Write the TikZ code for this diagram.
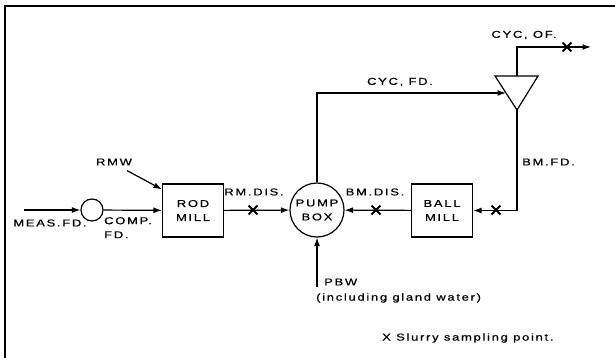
\documentclass[tikz,border=0pt]{standalone}
\usepackage{fontspec}
\setmainfont{Liberation Sans}[FakeStretch=1.3,LetterSpace=17,FakeBold=0.6]
\usetikzlibrary{arrows.meta,positioning,shapes.misc}

\begin{document}
\begin{tikzpicture}[x=1pt,y=-1pt]
\tikzset{
  unitbox/.style={rectangle,draw,line width=1.2pt,minimum width=61pt,minimum height=53pt,inner sep=1pt,align=center,font=\lbl},
  pumpnode/.style={circle,draw,line width=1.2pt,minimum size=54pt,inner sep=0pt,align=center,font=\lbl},
  compnode/.style={circle,draw,line width=1.2pt,minimum size=22pt,inner sep=0pt},
  flow/.style={-{Latex[length=8.5pt,width=6pt]},line width=1.2pt},
  pipe/.style={line width=1.2pt},
  sample/.style={cross out,draw,line width=1.8pt,minimum size=7pt,inner sep=0pt},
  tag/.style={inner sep=0pt,font=\lbl}
}
\newcommand{\lbl}{\fontsize{10}{14}\selectfont}
\useasboundingbox (0,0) rectangle (615,358);
% frame
\draw[line width=1.3pt] (5,358) -- (5,6) -- (615,6);

% units
\node[compnode] (n_comp) at (92,210) {};
\node[unitbox] (n_rod) at (193,210.5) {ROD\\MILL};
\node[pumpnode] (n_pump) at (317,210) {PUMP\\BOX};
\node[unitbox] (n_ball) at (442,210.5) {BALL\\MILL};

% cyclone
\coordinate (c_tl) at (495,76);
\coordinate (c_tr) at (538,76);
\coordinate (c_apex) at (517,110);
\coordinate (c_top) at (517,76);
\coordinate (c_in) at (506,93);
\draw[pipe,line join=miter] (c_tl) -- (c_tr) -- (c_apex) -- cycle;

% free ends
\coordinate (meas_in) at (24,210);
\coordinate (of_out) at (591,47);
\coordinate (pbw_in) at (317,287);

% streams
\draw[flow] (meas_in) -- (n_comp);
\draw[flow] (n_comp) -- (n_rod);
\draw[flow] (n_rod) -- (n_pump);
\draw[flow] (n_ball) -- (n_pump);
\draw[flow] (n_pump.north) |- (c_in);
\draw[flow] (c_top) |- (of_out);
\draw[flow] (c_apex) |- (n_ball.east);
\draw[flow] (pbw_in) -- (n_pump.south);

% sampling points
\node[sample] (x_rm) at (253,210) {};
\node[sample] (x_bm) at (376,210) {};
\node[sample] (x_bf) at (496,210) {};
\node[sample] (x_of) at (567,47) {};

% labels
\node[tag] (t_rmw) at (114,162) {RMW};
\draw[flow] (t_rmw.south east) ++(-5,5) -- ([yshift=-6pt]n_rod.north west);
\node[tag] (t_meas) at (50,223) {MEAS.FD.};
\node[tag,anchor=north west,align=left] (t_comp) at (104,217) {COMP.\\ FD.};
\node[tag] (t_rmdis) at (254,192) {RM.DIS.};
\node[tag] (t_bmdis) at (375,192) {BM.DIS.};
\node[tag,anchor=west] (t_bmfd) at (522,162) {BM.FD.};
\node[tag] (t_cycfd) at (400,82) {CYC, FD.};
\node[tag] (t_cycof) at (524,35) {CYC, OF.};
\node[tag,anchor=west] (t_pbw) at (324,282) {PBW};
\node[tag,anchor=west] (t_gland) at (316,298) {(including gland water)};
\node[tag,anchor=west] (t_key) at (382,338) {X Slurry sampling point.};
\end{tikzpicture}
\end{document}
